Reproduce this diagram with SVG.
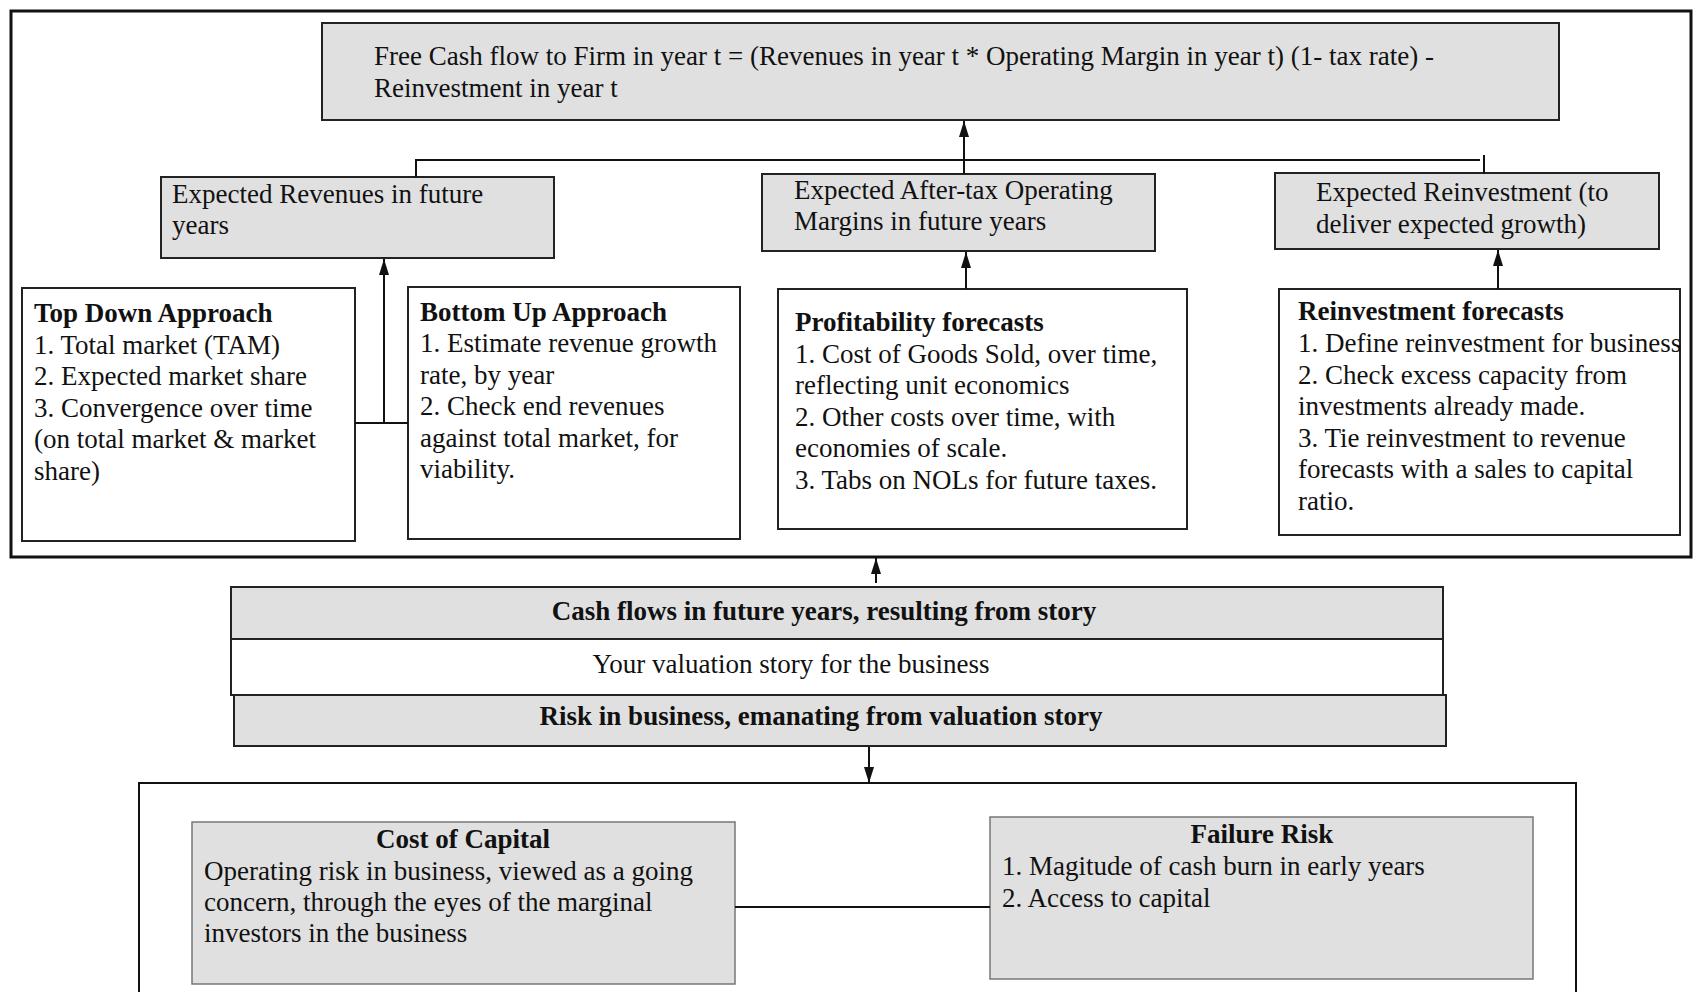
<svg xmlns="http://www.w3.org/2000/svg" width="1700" height="992" viewBox="0 0 1700 992">
<defs>
<marker id="ah" viewBox="0 0 16 10" refX="16" refY="5" markerWidth="16" markerHeight="10" markerUnits="userSpaceOnUse" orient="auto">
<path d="M0,0 L16,5 L0,10 z" fill="#111"/>
</marker>
<style>
text{font-family:"Liberation Serif","Times New Roman",serif;font-size:27px;fill:#111}
.b{font-weight:bold}
.m{text-anchor:middle}
.g{fill:#e0e0e0;stroke:#222;stroke-width:2}
.w{fill:#fff;stroke:#222;stroke-width:2}
.g2{fill:#e0e0e0;stroke:#777;stroke-width:1.5}
.c{fill:none;stroke:#111;stroke-width:2}
</style>
</defs>
<rect width="1700" height="992" fill="#fff"/>
<g id="outer-top"><rect x="11" y="11" width="1680" height="546" fill="none" stroke="#111" stroke-width="3"/></g>
<g id="outer-bottom"><path d="M139,992 V783 H1576 V992" fill="none" stroke="#111" stroke-width="2"/></g>

<g id="fcf">
<rect class="g" x="322" y="23" width="1237" height="97"/>
<text x="374" y="65">Free Cash flow to Firm in year t = (Revenues in year t * Operating Margin in year t) (1- tax rate) -</text>
<text x="374" y="97">Reinvestment in year t</text>
</g>

<g id="exp-rev">
<rect class="g" x="161" y="177" width="393" height="81"/>
<text x="172" y="203">Expected Revenues in future</text>
<text x="172" y="234">years</text>
</g>
<g id="exp-margin">
<rect class="g" x="762" y="174" width="393" height="77"/>
<text x="794" y="199">Expected After-tax Operating</text>
<text x="794" y="230">Margins in future years</text>
</g>
<g id="exp-reinv">
<rect class="g" x="1275" y="173" width="384" height="76"/>
<text x="1316" y="201">Expected Reinvestment (to</text>
<text x="1316" y="233">deliver expected growth)</text>
</g>

<g id="top-down">
<rect class="w" x="22" y="288" width="333" height="253"/>
<text class="b" x="34" y="322">Top Down Approach</text>
<text x="34" y="354">1. Total market (TAM)</text>
<text x="34" y="385">2. Expected market share</text>
<text x="34" y="417">3. Convergence over time</text>
<text x="34" y="448">(on total market &amp; market</text>
<text x="34" y="480">share)</text>
</g>
<g id="bottom-up">
<rect class="w" x="408" y="287" width="332" height="252"/>
<text class="b" x="420" y="321">Bottom Up Approach</text>
<text x="420" y="352">1. Estimate revenue growth</text>
<text x="420" y="384">rate, by year</text>
<text x="420" y="415">2. Check end revenues</text>
<text x="420" y="447">against total market, for</text>
<text x="420" y="478">viability.</text>
</g>
<g id="profit">
<rect class="w" x="778" y="289" width="409" height="240"/>
<text class="b" x="795" y="331">Profitability forecasts</text>
<text x="795" y="363">1. Cost of Goods Sold, over time,</text>
<text x="795" y="394">reflecting unit economics</text>
<text x="795" y="426">2. Other costs over time, with</text>
<text x="795" y="457">economies of scale.</text>
<text x="795" y="489">3. Tabs on NOLs for future taxes.</text>
</g>
<g id="reinv-fc">
<rect class="w" x="1279" y="289" width="401" height="246"/>
<text class="b" x="1298" y="320">Reinvestment forecasts</text>
<text x="1298" y="352">1. Define reinvestment for business</text>
<text x="1298" y="384">2. Check excess capacity from</text>
<text x="1298" y="415">investments already made.</text>
<text x="1298" y="447">3. Tie reinvestment to revenue</text>
<text x="1298" y="478">forecasts with a sales to capital</text>
<text x="1298" y="510">ratio.</text>
</g>

<g id="cashflows">
<rect class="g" x="231" y="587" width="1212" height="52"/>
<text class="b m" x="824" y="620">Cash flows in future years, resulting from story</text>
</g>
<g id="story">
<rect class="w" x="231" y="639" width="1212" height="56"/>
<text class="m" x="791" y="673">Your valuation story for the business</text>
</g>
<g id="risk">
<rect class="g" x="234" y="695" width="1212" height="51"/>
<text class="b m" x="821" y="725">Risk in business, emanating from valuation story</text>
</g>

<g id="coc">
<rect class="g2" x="192" y="822" width="543" height="162"/>
<text class="b m" x="463" y="848">Cost of Capital</text>
<text x="204" y="880">Operating risk in business, viewed as a going</text>
<text x="204" y="911">concern, through the eyes of the marginal</text>
<text x="204" y="942">investors in the business</text>
</g>
<g id="failure">
<rect class="g2" x="990" y="817" width="543" height="162"/>
<text class="b m" x="1262" y="843">Failure Risk</text>
<text x="1002" y="875">1. Magitude of cash burn in early years</text>
<text x="1002" y="907">2. Access to capital</text>
</g>

<g id="connectors">
<path class="c" d="M416,177 V160 H1480"/>
<path class="c" d="M1484,155 V174"/>
<path class="c" d="M964,174 V121" marker-end="url(#ah)"/>
<path class="c" d="M966,289 V252" marker-end="url(#ah)"/>
<path class="c" d="M1498,289 V250" marker-end="url(#ah)"/>
<path class="c" d="M355,423 H408"/>
<path class="c" d="M384,423 V259" marker-end="url(#ah)"/>
<path class="c" d="M876,583 V558" marker-end="url(#ah)"/>
<path class="c" d="M869,747 V783" marker-end="url(#ah)"/>
<path class="c" d="M735,907 H990"/>
</g>
</svg>
